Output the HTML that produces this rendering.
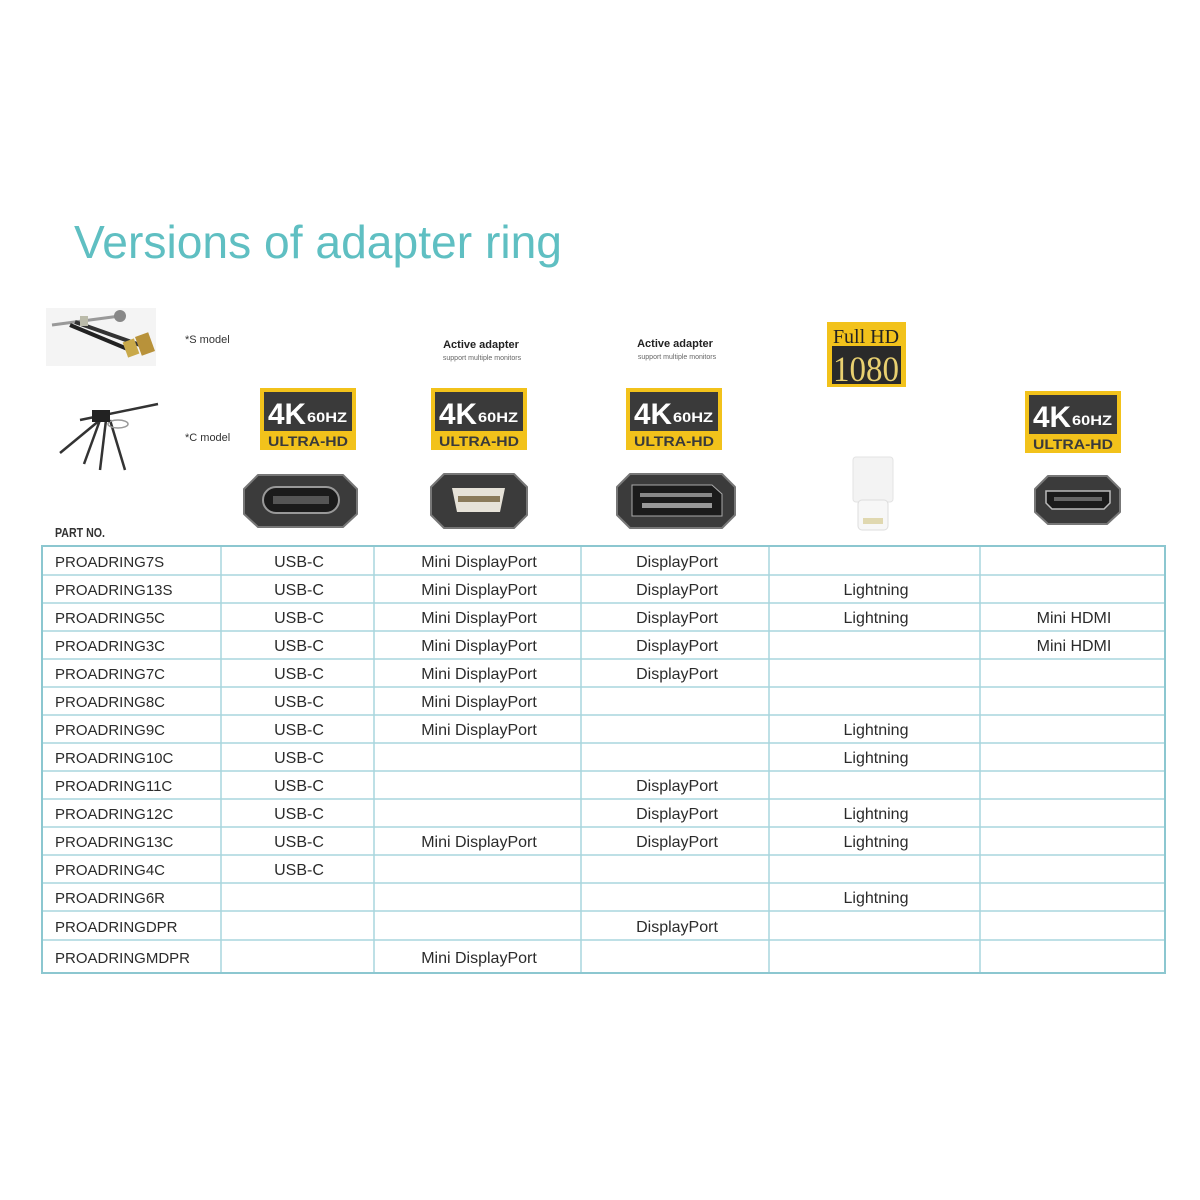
<!DOCTYPE html>
<html><head><meta charset="utf-8"><style>
html,body{margin:0;padding:0;background:#fff;}
svg{display:block;}
</style></head><body>
<svg width="1200" height="1200" viewBox="0 0 1200 1200" xmlns="http://www.w3.org/2000/svg" font-family="Liberation Sans, sans-serif">
<rect width="1200" height="1200" fill="#fff"/>
<text x="74" y="258" font-size="46" fill="#5fbfc2" textLength="488" lengthAdjust="spacingAndGlyphs">Versions of adapter ring</text>

<!-- S model image -->
<g>
<rect x="46" y="308" width="110" height="58" fill="#f4f4f4"/>
<line x1="52" y1="325" x2="120" y2="316" stroke="#999" stroke-width="3"/>
<circle cx="120" cy="316" r="6" fill="#888"/>
<line x1="70" y1="325" x2="130" y2="350" stroke="#222" stroke-width="4"/>
<line x1="75" y1="322" x2="140" y2="345" stroke="#333" stroke-width="4"/>
<rect x="125" y="340" width="12" height="16" fill="#c9a94a" transform="rotate(-20 131 348)"/>
<rect x="138" y="334" width="14" height="20" fill="#b8923a" transform="rotate(-20 145 344)"/>
<rect x="80" y="316" width="8" height="10" fill="#bba"/>
</g>
<text x="185" y="343" font-size="11" fill="#333">*S model</text>
<!-- C model image -->
<g stroke="#333" stroke-width="2.5" fill="none">
<line x1="80" y1="420" x2="158" y2="404"/>
<line x1="100" y1="420" x2="60" y2="453"/>
<line x1="100" y1="420" x2="84" y2="464"/>
<line x1="106" y1="420" x2="100" y2="470"/>
<line x1="110" y1="420" x2="125" y2="470"/>
<ellipse cx="118" cy="424" rx="10" ry="4" stroke="#999" stroke-width="1.5"/>
</g>
<rect x="92" y="410" width="18" height="12" fill="#222"/>
<text x="185" y="441" font-size="11" fill="#333">*C model</text>

<!-- Active adapter labels -->
<text x="481" y="348" font-size="11" font-weight="bold" fill="#222" text-anchor="middle">Active adapter</text>
<text x="482" y="360" font-size="7" fill="#666" text-anchor="middle">support multiple monitors</text>
<text x="675" y="347" font-size="11" font-weight="bold" fill="#222" text-anchor="middle">Active adapter</text>
<text x="677" y="359" font-size="7" fill="#666" text-anchor="middle">support multiple monitors</text>

<!-- 4K badges -->
<defs>
<g id="b4k">
<rect x="0" y="0" width="96" height="62" fill="#f2c21b"/>
<rect x="4" y="4" width="88" height="39" fill="#3a3a3a"/>
<text x="8" y="36" font-size="30" font-weight="bold" fill="#fff" textLength="38" lengthAdjust="spacingAndGlyphs">4K</text>
<text x="47" y="34" font-size="14" font-weight="bold" fill="#fff" textLength="40" lengthAdjust="spacingAndGlyphs">60HZ</text>
<text x="48" y="58" font-size="14" font-weight="bold" fill="#3a3a3a" text-anchor="middle" textLength="80" lengthAdjust="spacingAndGlyphs">ULTRA-HD</text>
</g>
</defs>
<use href="#b4k" x="260" y="388"/>
<use href="#b4k" x="431" y="388"/>
<use href="#b4k" x="626" y="388"/>
<use href="#b4k" x="1025" y="391"/>

<!-- Full HD -->
<rect x="827" y="322" width="79" height="65" fill="#f2c21b"/>
<rect x="832" y="346" width="69" height="38" fill="#2a2a2a"/>
<text x="866" y="343" font-size="20" font-family="Liberation Serif, serif" fill="#222" text-anchor="middle">Full HD</text>
<text x="866" y="381" font-size="36" font-family="Liberation Serif, serif" fill="#e8d070" text-anchor="middle" textLength="66" lengthAdjust="spacingAndGlyphs">1080</text>

<!-- connectors -->
<path d="M258 475 H343 L357 489 V514 L343 527 H258 L244 514 V489 Z" fill="#3b3b3b" stroke="#777" stroke-width="2" stroke-linejoin="round"/>
<rect x="263" y="487" width="76" height="26" rx="13" fill="#1b1b1b" stroke="#999" stroke-width="2"/>
<rect x="273" y="496" width="56" height="8" fill="#555"/>
<path d="M444 474 H514 L527 487 V515 L514 528 H444 L431 515 V487 Z" fill="#3b3b3b" stroke="#777" stroke-width="2" stroke-linejoin="round"/>
<path d="M452 488 H505 L500 512 H457 Z" fill="#e6e2d8"/>
<rect x="458" y="496" width="42" height="6" fill="#8a7a5a"/>
<path d="M630 474 H722 L735 487 V515 L722 528 H630 L617 515 V487 Z" fill="#3b3b3b" stroke="#777" stroke-width="2" stroke-linejoin="round"/>
<path d="M632 485 H712 L722 494 V516 H632 Z" fill="#1b1b1b" stroke="#aaa" stroke-width="1"/>
<rect x="640" y="493" width="72" height="4" fill="#888"/>
<rect x="642" y="503" width="70" height="5" fill="#999"/>
<rect x="853" y="457" width="40" height="45" rx="3" fill="#f3f3f3" stroke="#e3e3e3"/>
<rect x="858" y="500" width="30" height="30" rx="4" fill="#f7f7f7" stroke="#ddd"/>
<rect x="863" y="518" width="20" height="6" fill="#e0d8b0"/>
<path d="M1048 476 H1107 L1120 489 V512 L1107 524 H1048 L1035 512 V489 Z" fill="#3b3b3b" stroke="#777" stroke-width="2" stroke-linejoin="round"/>
<path d="M1046 491 H1110 V503 L1104 509 H1052 L1046 503 Z" fill="#1b1b1b" stroke="#bbb" stroke-width="1.5"/>
<rect x="1054" y="497" width="48" height="4" fill="#666"/>

<text x="55" y="537" font-size="13" font-weight="bold" fill="#333" textLength="50" lengthAdjust="spacingAndGlyphs">PART NO.</text>

<!-- table grid -->
<g stroke="#a9d6dd" stroke-width="1.5">
<line x1="42" y1="575" x2="1165" y2="575"/>
<line x1="42" y1="603" x2="1165" y2="603"/>
<line x1="42" y1="631" x2="1165" y2="631"/>
<line x1="42" y1="659" x2="1165" y2="659"/>
<line x1="42" y1="687" x2="1165" y2="687"/>
<line x1="42" y1="715" x2="1165" y2="715"/>
<line x1="42" y1="743" x2="1165" y2="743"/>
<line x1="42" y1="771" x2="1165" y2="771"/>
<line x1="42" y1="799" x2="1165" y2="799"/>
<line x1="42" y1="827" x2="1165" y2="827"/>
<line x1="42" y1="855" x2="1165" y2="855"/>
<line x1="42" y1="883" x2="1165" y2="883"/>
<line x1="42" y1="911" x2="1165" y2="911"/>
<line x1="42" y1="940" x2="1165" y2="940"/>
<line x1="221" y1="546" x2="221" y2="973"/>
<line x1="374" y1="546" x2="374" y2="973"/>
<line x1="581" y1="546" x2="581" y2="973"/>
<line x1="769" y1="546" x2="769" y2="973"/>
<line x1="980" y1="546" x2="980" y2="973"/>
</g>
<rect x="42" y="546" width="1123" height="427" fill="none" stroke="#8cc7d0" stroke-width="2"/>

<g font-size="16" fill="#2b2b2b">
<g font-size="15">
<text x="55" y="567">PROADRING7S</text>
<text x="55" y="595">PROADRING13S</text>
<text x="55" y="623">PROADRING5C</text>
<text x="55" y="651">PROADRING3C</text>
<text x="55" y="679">PROADRING7C</text>
<text x="55" y="707">PROADRING8C</text>
<text x="55" y="735">PROADRING9C</text>
<text x="55" y="763">PROADRING10C</text>
<text x="55" y="791">PROADRING11C</text>
<text x="55" y="819">PROADRING12C</text>
<text x="55" y="847">PROADRING13C</text>
<text x="55" y="875">PROADRING4C</text>
<text x="55" y="903">PROADRING6R</text>
<text x="55" y="932">PROADRINGDPR</text>
<text x="55" y="963">PROADRINGMDPR</text>
</g>
<g text-anchor="middle">
<text x="299" y="567">USB-C</text><text x="299" y="595">USB-C</text><text x="299" y="623">USB-C</text>
<text x="299" y="651">USB-C</text><text x="299" y="679">USB-C</text><text x="299" y="707">USB-C</text>
<text x="299" y="735">USB-C</text><text x="299" y="763">USB-C</text><text x="299" y="791">USB-C</text>
<text x="299" y="819">USB-C</text><text x="299" y="847">USB-C</text><text x="299" y="875">USB-C</text>

<text x="479" y="567">Mini DisplayPort</text><text x="479" y="595">Mini DisplayPort</text>
<text x="479" y="623">Mini DisplayPort</text><text x="479" y="651">Mini DisplayPort</text>
<text x="479" y="679">Mini DisplayPort</text><text x="479" y="707">Mini DisplayPort</text>
<text x="479" y="735">Mini DisplayPort</text><text x="479" y="847">Mini DisplayPort</text>
<text x="479" y="963">Mini DisplayPort</text>

<text x="677" y="567">DisplayPort</text><text x="677" y="595">DisplayPort</text>
<text x="677" y="623">DisplayPort</text><text x="677" y="651">DisplayPort</text>
<text x="677" y="679">DisplayPort</text><text x="677" y="791">DisplayPort</text>
<text x="677" y="819">DisplayPort</text><text x="677" y="847">DisplayPort</text>
<text x="677" y="932">DisplayPort</text>

<text x="876" y="595">Lightning</text><text x="876" y="623">Lightning</text>
<text x="876" y="735">Lightning</text><text x="876" y="763">Lightning</text>
<text x="876" y="819">Lightning</text><text x="876" y="847">Lightning</text>
<text x="876" y="903">Lightning</text>

<text x="1074" y="623">Mini HDMI</text><text x="1074" y="651">Mini HDMI</text>
</g>
</g>
</svg>
</body></html>
